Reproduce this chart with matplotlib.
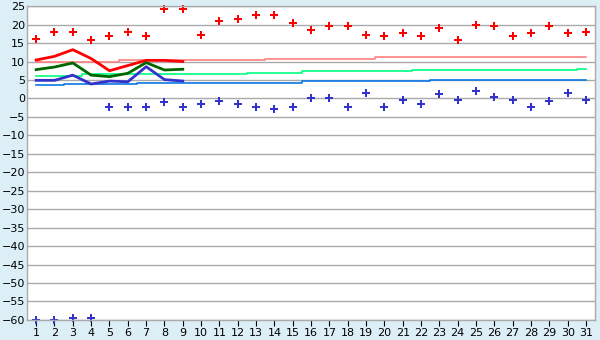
import matplotlib
matplotlib.use("Agg")
import matplotlib.pyplot as plt
import numpy as np

days = list(range(1, 32))

# daily maximum (red markers) and minimum (blue markers)
tmax = [16.2, 18.1, 18.1, 15.7, 17.0, 18.1, 16.8, 24.1, 24.1, 17.3,
        21.1, 21.6, 22.7, 22.7, 20.5, 18.4, 19.5, 19.5, 17.3, 17.0,
        17.6, 17.0, 19.2, 15.9, 20.0, 19.5, 16.8, 17.6, 19.5, 17.6, 18.1]
tmin = [-60.0, -60.0, -59.5, -59.5, -2.2, -2.2, -2.2, -1.1, -2.2, -1.4,
        -0.8, -1.4, -2.2, -3.0, -2.2, 0.0, 0.0, -2.2, 1.35, -2.4,
        -0.5, -1.4, 1.1, -0.3, 1.9, 0.3, -0.3, -2.4, -0.8, 1.35, -0.5]

# running averages (first 9 days)
line_days = list(range(1, 10))
avg_max = [10.4, 11.4, 13.2, 10.8, 7.5, 8.9, 10.3, 10.3, 10.0]
avg_mean = [7.8, 8.5, 9.6, 6.3, 5.9, 6.8, 9.7, 7.7, 7.9]
avg_min = [4.9, 4.9, 6.3, 3.9, 4.7, 4.5, 8.6, 5.1, 4.7]

# normals (step lines)
norm_max = [9.8] + [10.0]*4 + [10.3]*4 + [10.5]*4 + [10.8]*6 + [11.1]*12
norm_mean = [6.2]*3 + [6.7]*9 + [7.0]*3 + [7.3]*6 + [7.6]*9 + [7.9]
norm_min = [3.5]*2 + [3.8]*4 + [4.05]*6 + [4.3]*3 + [4.6]*7 + [4.9]*9

bg = "#DCEFF7"
fig = plt.figure(figsize=(6, 3.4), dpi=100, facecolor=bg)
ax = fig.add_axes([0.045, 0.059, 0.947, 0.923])
ax.set_facecolor("white")

ax.set_xlim(0.5, 31.5)
ax.set_ylim(-60, 25)
ax.set_yticks(np.arange(-60, 26, 5))
ax.set_xticks(days)
ax.set_xticklabels([str(d) for d in days])
ax.grid(axis="y", color="#AAAAAA", lw=1)
ax.set_axisbelow(True)

for s in ax.spines.values():
    s.set_color("#AAAAAA")
    s.set_linewidth(1)

ax.tick_params(axis="x", direction="out", length=4, color="black", labelsize=8, pad=2)
ax.tick_params(axis="y", length=0, labelsize=8, pad=1.5)

ax.step(days, norm_max, where="mid", color="#FF8080", lw=1.2)
ax.step(days, norm_mean, where="mid", color="#00FF80", lw=1.2)
ax.step(days, norm_min, where="mid", color="#0A78E6", lw=1.2)

ax.plot(line_days, avg_max, color="#FF0000", lw=2)
ax.plot(line_days, avg_mean, color="#006600", lw=2)
ax.plot(line_days, avg_min, color="#3333CC", lw=2)

ax.plot(days, tmax, ls="none", marker="P", ms=5.5, color="#FF0000", mew=0, clip_on=False)
ax.plot(days, tmin, ls="none", marker="P", ms=5.5, color="#3333CC", mew=0, clip_on=False)

fig.savefig("out.png", dpi=100, facecolor=bg)
